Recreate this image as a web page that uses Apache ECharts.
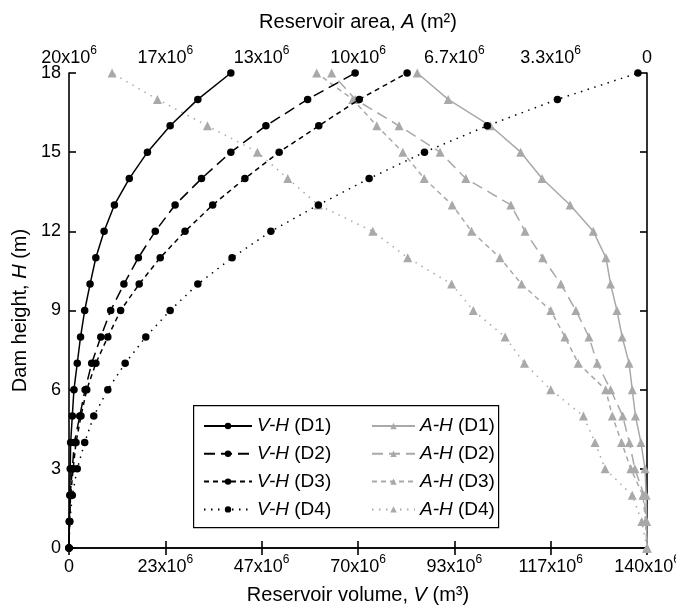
<!DOCTYPE html>
<html>
<head>
<meta charset="utf-8">
<script src="https://cdn.jsdelivr.net/npm/echarts@6/dist/echarts.min.js"></script>
<style>html,body{margin:0;padding:0;background:#fff}#c{width:676px;height:607px}</style>
</head>
<body>
<div id="c"></div>
<script>
// Dam height H (m)
const heights = [0,1,2,3,4,5,6,7,8,9,10,11,12,13,14,15,16,17,18];
// Reservoir volume V (x10^6 m3)
const vD1 = [0,0.1,0.2,0.3,0.4,0.8,1.2,2.0,2.8,3.8,5.1,6.5,8.5,11.0,14.6,19.0,24.5,31.2,39.2];
const vD2 = [0,0.1,0.3,0.8,1.3,2.6,3.9,5.5,7.7,10.1,13.3,16.8,20.9,25.7,32.1,39.2,47.7,57.8,69.3];
const vD3 = [0,0.1,0.4,1.0,1.7,2.9,4.3,6.5,9.4,12.5,17.0,22.1,28.1,34.8,42.6,50.9,60.5,70.3,81.9];
const vD4 = [0,0.2,0.8,2.0,3.8,6.0,9.4,13.6,18.6,24.5,31.2,39.5,48.9,60.4,72.7,86.1,101.3,118.3,137.8];
// Reservoir area A (x10^6 m2)
const aD1 = [0,0.01,0.03,0.07,0.21,0.40,0.51,0.62,0.86,1.04,1.26,1.42,1.86,2.66,3.63,4.37,5.42,6.88,7.95];
const aD2 = [0,0.03,0.10,0.42,0.61,0.84,1.26,1.72,2.01,2.46,2.98,3.61,4.22,4.71,6.27,7.16,8.58,10.10,10.91];
const aD3 = [0,0.05,0.14,0.56,0.88,1.20,1.43,2.38,2.84,3.33,4.34,5.09,6.07,6.74,7.71,8.45,9.35,10.18,11.43];
const aD4 = [0,0.18,0.51,1.45,1.80,2.20,3.33,4.24,4.91,6.01,6.76,8.28,9.49,11.37,12.43,13.48,15.21,16.94,18.51];
// Tick labels (mantissa of x10^6)
const volTicks = ['0','23','47','70','93','117','140'];
const areaTicks = ['0','3.3','6.7','10','13','17','20'];
const hTicks = ['0','3','6','9','12','15','18'];

const FONT = 'Liberation Sans, Arial, sans-serif';
const BLACK = '#000000';
const GRAY = '#a9a9a9';

function pairs(xs){ return xs.map((v,i)=>[v, heights[i]]); }
function sciLabel(arr, step){
  return function(value){
    const i = Math.round(value/step);
    const m = arr[i];
    if (m === '0') return '{n|0}';
    return '{n|' + m + 'x10}{s|6}';
  };
}
const richTick = {
  n: {fontFamily: FONT, fontSize: 18, color: '#000', lineHeight: 22, verticalAlign: 'bottom'},
  s: {fontFamily: FONT, fontSize: 12, color: '#000', lineHeight: 12, verticalAlign: 'top'}
};
const TITLE = 20;
const richName = {
  i: {fontFamily: FONT, fontSize: TITLE, fontStyle: 'italic', color: '#000'}
};
const axisLine = {show: true, lineStyle: {color: '#000', width: 1.6}};
const axisTick = {show: true, inside: true, length: 7, lineStyle: {color: '#000', width: 1.6}};

const dashes = ['solid', [11, 6], [5, 4], [1.5, 5.5]];
const vNames = ['V-H (D1)','V-H (D2)','V-H (D3)','V-H (D4)'];
const aNames = ['A-H (D1)','A-H (D2)','A-H (D3)','A-H (D4)'];
const vData = [vD1, vD2, vD3, vD4];
const aData = [aD1, aD2, aD3, aD4];

const series = [];
aData.forEach((d, k) => {
  series.push({
    name: aNames[k], type: 'line', xAxisIndex: 1, yAxisIndex: 0,
    data: pairs(d), symbol: 'triangle', symbolSize: 9, showSymbol: true,
    lineStyle: {color: GRAY, width: 1.5, type: dashes[k]},
    itemStyle: {color: GRAY}, emphasis: {disabled: true}, animation: false, z: 2
  });
});
vData.forEach((d, k) => {
  series.push({
    name: vNames[k], type: 'line', xAxisIndex: 0, yAxisIndex: 0,
    data: pairs(d), symbol: 'circle', symbolSize: 7.5, showSymbol: true,
    lineStyle: {color: BLACK, width: 1.5, type: dashes[k]},
    itemStyle: {color: BLACK}, emphasis: {disabled: true}, animation: false, z: 3
  });
});

function legendFmt(name){
  const p = name.split(' ');
  return '{i|' + p[0] + '} ' + p[1];
}
const legendBase = {
  orient: 'vertical', top: 416, itemGap: 7.8, itemHeight: 8,
  textStyle: {fontFamily: FONT, fontSize: 19, lineHeight: 20, color: '#000',
    rich: {i: {fontFamily: FONT, fontSize: 19, lineHeight: 20, fontStyle: 'italic', color: '#000'}}},
  formatter: legendFmt, selectedMode: false, padding: 0
};

const chart = echarts.init(document.getElementById('c'), null, {renderer: 'canvas'});
chart.setOption({
  animation: false,
  backgroundColor: '#fff',
  grid: {left: 69, right: 29, top: 73, bottom: 59, containLabel: false, outerBoundsMode: 'none'},
  xAxis: [{
    type: 'value', position: 'bottom', min: 0, max: 140, interval: 140/6,
    name: 'Reservoir volume, {i|V} (m³)', nameLocation: 'middle', nameGap: 37,
    nameTextStyle: {fontFamily: FONT, fontSize: TITLE, color: '#000', rich: richName},
    axisLine: axisLine, axisTick: axisTick, splitLine: {show: false},
    axisLabel: {margin: 6, formatter: sciLabel(volTicks, 140/6), rich: richTick}
  }, {
    type: 'value', position: 'top', inverse: true, min: 0, max: 20, interval: 20/6,
    name: 'Reservoir area, {i|A} (m²)', nameLocation: 'middle', nameGap: 41,
    nameTextStyle: {fontFamily: FONT, fontSize: TITLE, color: '#000', rich: richName},
    axisLine: axisLine, axisTick: axisTick, splitLine: {show: false},
    axisLabel: {margin: 6, formatter: sciLabel(areaTicks, 20/6), rich: richTick}
  }],
  yAxis: [{
    type: 'value', position: 'left', min: 0, max: 18, interval: 3,
    name: 'Dam height, {i|H} (m)', nameLocation: 'middle', nameGap: 36, nameRotate: 90,
    nameTextStyle: {fontFamily: FONT, fontSize: TITLE, color: '#000', rich: richName},
    axisLine: axisLine, axisTick: axisTick, splitLine: {show: false},
    axisLabel: {margin: 8, fontFamily: FONT, fontSize: 18, color: '#000',
      formatter: v => hTicks[Math.round(v/3)]}
  }, {
    type: 'value', position: 'right', min: 0, max: 18, interval: 3,
    axisLine: axisLine, axisTick: axisTick, splitLine: {show: false},
    axisLabel: {show: false}
  }],
  legend: [
    Object.assign({}, legendBase, {left: 203, itemWidth: 48, data: vNames}),
    Object.assign({}, legendBase, {left: 371, itemWidth: 43, data: aNames})
  ],
  graphic: [{
    type: 'rect', left: 193, top: 405, z: 10, silent: true,
    shape: {width: 305, height: 122},
    style: {fill: 'rgba(0,0,0,0)', stroke: '#000', lineWidth: 1.2}
  }],
  series: series
});
</script>
</body>
</html>
